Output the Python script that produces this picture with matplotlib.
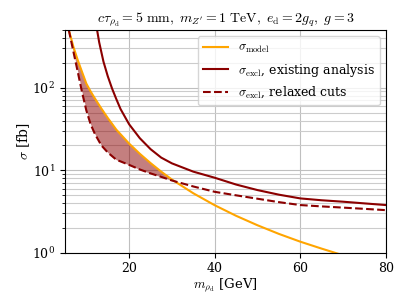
import numpy as np
import matplotlib
matplotlib.use('Agg')
import matplotlib.pyplot as plt

plt.rcParams['font.family'] = 'serif'
plt.rcParams['font.serif'] = ['DejaVu Serif']
plt.rcParams['mathtext.fontset'] = 'cm'
plt.rcParams['font.size'] = 9

# m_rho_d [GeV] and cross sections [fb]
x_low = [5.9, 7, 8, 9, 10, 11, 12, 13.5, 15, 17, 20, 22.5, 25, 27.5, 30,
         35, 40, 45, 50, 55, 60, 65, 70, 75, 80]
sigma_model = [500, 310, 215, 155, 112, 90, 74, 56, 43, 31, 21, 15.8, 12.2,
               9.6, 7.7, 5.25, 3.76, 2.8, 2.15, 1.69, 1.36, 1.12, 0.93, 0.78, 0.66]
sigma_relaxed = [500, 270, 155, 88, 53, 36, 27.5, 20, 16.4, 13.4, 11.6, 10.2,
                 9.15, 8.3, 7.5, 6.35, 5.47, 4.96, 4.51, 4.1, 3.78, 3.64, 3.52,
                 3.4, 3.28]

x_exist = [12.4, 13, 14, 15, 16, 17, 18, 20, 22.5, 25, 27.5, 30, 35, 40, 45,
           50, 55, 60, 65, 70, 75, 80]
sigma_exist = [540, 355, 207, 138, 98, 72.8, 55, 36, 24.4, 18, 14.2, 12.1, 9.6,
               8.1, 6.7, 5.74, 5.05, 4.55, 4.32, 4.15, 3.96, 3.78]

x_ticks = [20, 40, 60, 80]

fig, ax = plt.subplots(figsize=(4.11, 3.08), dpi=100)
plt.subplots_adjust(left=0.158, right=0.939, top=0.9026, bottom=0.1795)

m = np.array(sigma_model)
r = np.array(sigma_relaxed)
ax.fill_between(x_low, m, r, where=m >= r, interpolate=True,
                color='darkred', alpha=0.5, lw=0)
ax.plot(x_low, sigma_model, color='orange', lw=1.5,
        label=r'$\sigma_\mathrm{model}$')
ax.plot(x_exist, sigma_exist, color='darkred', lw=1.5,
        label=r'$\sigma_\mathrm{excl}$, existing analysis')
ax.plot(x_low, sigma_relaxed, color='darkred', lw=1.5, ls='--',
        label=r'$\sigma_\mathrm{excl}$, relaxed cuts')

ax.set_yscale('log')
ax.set_xlim(5, 80)
ax.set_ylim(1, 500)
ax.set_xticks(x_ticks)
ax.grid(which='major', color='0.75', lw=0.8)
ax.yaxis.grid(which='minor', color='0.8', lw=0.8)
ax.set_axisbelow(True)

ax.set_xlabel(r'$m_{\rho_\mathrm{d}}$ [GeV]', fontsize=9.5, labelpad=1)
ax.set_ylabel(r'$\sigma$ [fb]', fontsize=10, labelpad=0)
ax.set_title(r'$c\tau_{\rho_\mathrm{d}} = 5\ \mathrm{mm},\ m_{Z^\prime} = 1\ \mathrm{TeV},\ '
             r'e_\mathrm{d} = 2g_q,\ g = 3$', fontsize=10, pad=5)
ax.legend(loc='upper right')

plt.savefig('out.png', dpi=100)
